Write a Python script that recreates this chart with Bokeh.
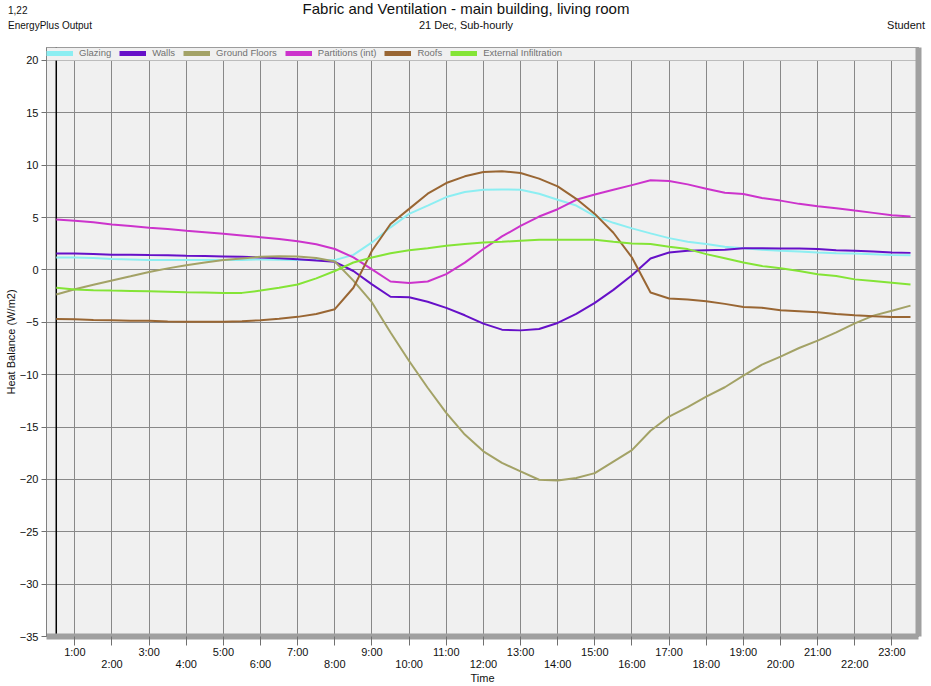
import numpy as np
from bokeh.plotting import figure
from bokeh.layouts import column
from bokeh.models import (Range1d, FixedTicker, LinearAxis, Span, Div,
                          BoxAnnotation, Legend, LegendItem)
from bokeh.embed import file_html
from bokeh.resources import INLINE

# half-hourly time stamps 0:30 ... 23:30 (hours)
times = [0.5 + 0.5 * i for i in range(47)]

glazing = [1.20, 1.18, 1.13, 1.05, 1.00, 0.95, 0.94, 0.94, 0.94, 0.94, 0.96, 1.00,
           0.98, 0.95, 0.94, 0.94, 1.44, 2.63, 4.07, 5.35, 6.15, 6.96, 7.44, 7.66,
           7.69, 7.66, 7.28, 6.70, 6.15, 5.15, 4.50, 3.97, 3.49, 3.04, 2.69, 2.47,
           2.21, 2.08, 1.92, 1.83, 1.76, 1.67, 1.60, 1.57, 1.51, 1.42, 1.41]
walls = [1.58, 1.58, 1.52, 1.45, 1.45, 1.42, 1.40, 1.35, 1.33, 1.29, 1.25, 1.19,
         1.12, 1.03, 0.90, 0.78, -0.10, -1.38, -2.56, -2.60, -3.04, -3.62, -4.33, -5.13,
         -5.70, -5.77, -5.64, -5.06, -4.20, -3.14, -1.90, -0.50, 1.10, 1.67, 1.83, 1.89,
         1.92, 2.08, 2.08, 2.05, 2.05, 1.99, 1.89, 1.83, 1.76, 1.67, 1.63]
ground_floors = [-2.35, -1.84, -1.42, -1.00, -0.60, -0.19, 0.15, 0.45, 0.70, 0.94, 1.10, 1.26,
                 1.30, 1.28, 1.15, 0.80, -1.02, -3.10, -5.97, -8.69, -11.25, -13.64, -15.72, -17.32,
                 -18.43, -19.23, -20.03, -20.10, -19.87, -19.40, -18.30, -17.20, -15.35, -14.00, -13.10, -12.10,
                 -11.20, -10.10, -9.04, -8.28, -7.45, -6.75, -5.96, -5.10, -4.36, -3.89, -3.41]
partitions = [4.81, 4.70, 4.55, 4.35, 4.20, 4.03, 3.90, 3.74, 3.60, 3.45, 3.30, 3.13,
              2.95, 2.74, 2.45, 2.00, 1.20, 0.06, -1.10, -1.25, -1.10, -0.40, 0.70, 2.00,
              3.20, 4.20, 5.10, 5.80, 6.70, 7.20, 7.65, 8.10, 8.56, 8.50, 8.17, 7.76,
              7.37, 7.25, 6.86, 6.62, 6.31, 6.08, 5.90, 5.67, 5.45, 5.22, 5.10]
roofs = [-4.68, -4.70, -4.77, -4.80, -4.84, -4.84, -4.92, -4.94, -4.94, -4.94, -4.90, -4.80,
         -4.65, -4.48, -4.20, -3.75, -1.70, 1.83, 4.39, 5.83, 7.28, 8.30, 8.94, 9.36,
         9.42, 9.26, 8.72, 7.98, 6.79, 5.35, 3.55, 1.19, -2.15, -2.72, -2.82, -2.98,
         -3.24, -3.53, -3.62, -3.85, -3.94, -4.04, -4.20, -4.33, -4.42, -4.49, -4.49]
infiltration = [-1.71, -1.87, -1.93, -1.97, -2.00, -2.03, -2.08, -2.13, -2.16, -2.19, -2.19, -1.97,
                -1.70, -1.39, -0.80, -0.10, 0.71, 1.19, 1.60, 1.89, 2.08, 2.31, 2.47, 2.63,
                2.69, 2.79, 2.88, 2.88, 2.88, 2.88, 2.70, 2.53, 2.47, 2.21, 1.99, 1.51,
                1.12, 0.71, 0.38, 0.16, -0.10, -0.42, -0.58, -0.90, -1.06, -1.22, -1.38]

series_names = ["Glazing", "Walls", "Ground Floors", "Partitions (int)", "Roofs",
                "External Infiltration"]
series_values = [glazing, walls, ground_floors, partitions, roofs, infiltration]
series_colors = ["#8CEEF2", "#6610C8", "#A3A266", "#CC33CC", "#996633", "#84E436"]

hour_ticks = list(range(1, 24))
hour_labels = ["%d:00" % h for h in hour_ticks]
y_ticks = list(range(-35, 25, 5))

title_text = "Fabric and Ventilation - main building, living room"
subtitle_text = "21 Dec, Sub-hourly"
left_top_text = "1,22"
left_sub_text = "EnergyPlus Output"
right_sub_text = "Student"

FONT = "Liberation Sans"

# header (two text rows above the chart) ---------------------------
header_html = (
    '<div style="position:relative;width:931px;height:47px;'
    'font-family:\'Liberation Sans\',Arial,sans-serif;color:#111;">'
    '<span style="position:absolute;left:8px;top:5px;font-size:10px;line-height:12px;">%s</span>'
    '<span style="position:absolute;left:466px;top:0px;transform:translateX(-50%%);'
    'white-space:nowrap;font-size:15px;line-height:17px;">%s</span>'
    '<span style="position:absolute;left:8px;top:20px;font-size:10px;line-height:12px;white-space:nowrap;">%s</span>'
    '<span style="position:absolute;left:466px;top:19px;transform:translateX(-50%%);'
    'white-space:nowrap;font-size:11px;line-height:13px;">%s</span>'
    '<span style="position:absolute;right:6px;top:19px;font-size:11px;line-height:13px;">%s</span>'
    '</div>' % (left_top_text, title_text, left_sub_text, subtitle_text, right_sub_text)
)
header = Div(text=header_html, width=931, height=47, margin=0)

p = figure(frame_width=872, frame_height=589,
           x_range=Range1d(0.237, 23.715), y_range=Range1d(-35, 21.24),
           min_border_left=46, min_border_right=13, min_border_top=0,
           min_border_bottom=48, margin=0,
           toolbar_location=None, output_backend="svg",
           background_fill_color="#F0F0F0", border_fill_color="white")
p.outline_line_color = "#808080"
p.outline_line_width = 1

# axes -------------------------------------------------------------
xa = p.xaxis[0]
xa.ticker = FixedTicker(ticks=hour_ticks)
xa.major_label_overrides = {h: (lab if h % 2 == 1 else "")
                            for h, lab in zip(hour_ticks, hour_labels)}
xa.major_tick_out = 9
xa.major_tick_in = 0
xa.minor_tick_out = 0
xa.minor_tick_in = 0
xa.major_tick_line_color = "#707070"
xa.axis_line_color = "#A0A0A0"
xa.axis_line_width = 6
xa.major_label_standoff = 0
xa.major_label_text_font_size = "11px"
xa.major_label_text_font = FONT
xa.major_label_text_color = "#111111"

xb = LinearAxis(ticker=FixedTicker(ticks=[h for h in hour_ticks if h % 2 == 0]))
xb.major_label_overrides = {h: lab for h, lab in zip(hour_ticks, hour_labels) if h % 2 == 0}
xb.major_tick_out = 0
xb.major_tick_in = 0
xb.minor_tick_out = 0
xb.minor_tick_in = 0
xb.axis_line_color = None
xb.major_label_standoff = -3
xb.major_label_text_font_size = "11px"
xb.major_label_text_font = FONT
xb.major_label_text_color = "#111111"
xb.axis_label = "Time"
xb.axis_label_standoff = -1
xb.axis_label_text_font_size = "11px"
xb.axis_label_text_font = FONT
xb.axis_label_text_font_style = "normal"
xb.axis_label_text_color = "#111111"
p.add_layout(xb, "below")

xr = LinearAxis(ticker=FixedTicker(ticks=[]))
xr.axis_line_color = "#A0A0A0"
xr.axis_line_width = 6
xr.major_tick_out = 0
xr.major_tick_in = 0
xr.minor_tick_out = 0
xr.minor_tick_in = 0
xr.major_label_text_font_size = "0px"
p.add_layout(xr, "right")

ya = p.yaxis[0]
ya.ticker = FixedTicker(ticks=y_ticks)
ya.major_tick_out = 5
ya.major_tick_in = 0
ya.minor_tick_out = 0
ya.minor_tick_in = 0
ya.major_tick_line_color = "#707070"
ya.axis_line_color = "#808080"
ya.major_label_standoff = 3
ya.major_label_text_font_size = "11px"
ya.major_label_text_font = FONT
ya.major_label_text_color = "#111111"
ya.axis_label = "Heat Balance (W/m2)"
ya.axis_label_standoff = 0
ya.axis_label_text_font_size = "11px"
ya.axis_label_text_font = FONT
ya.axis_label_text_font_style = "normal"
ya.axis_label_text_color = "#111111"

p.xgrid.grid_line_color = "#888888"
p.ygrid.grid_line_color = "#888888"
p.xgrid.grid_line_width = 1
p.ygrid.grid_line_width = 1

# black line at the first time stamp, strip behind the legend
span = Span(location=times[0], dimension="height", line_color="black",
            line_width=1.5, level="underlay")
p.add_layout(span)
strip = BoxAnnotation(bottom=20, fill_color="#F0F0F0", fill_alpha=1,
                      line_color=None, level="underlay")
p.add_layout(strip)

# series -----------------------------------------------------------
items = []
for name, vals, col in zip(series_names, series_values, series_colors):
    p.line(times, vals, line_color=col, line_width=2)
    dummy = p.line([np.nan], [np.nan], line_color=col, line_width=5)
    items.append(LegendItem(label=name, renderers=[dummy]))

legend = Legend(items=items, location="top_left", orientation="horizontal",
                background_fill_alpha=0, border_line_color=None,
                label_text_font_size="9.5px", label_text_font=FONT,
                label_text_color="#707070",
                glyph_width=27, glyph_height=10, label_height=10,
                label_standoff=6, spacing=8, padding=2, margin=0)
p.add_layout(legend, "center")

layout = column(header, p, spacing=0, margin=0)

open("out.html", "w").write(file_html(layout, INLINE))
